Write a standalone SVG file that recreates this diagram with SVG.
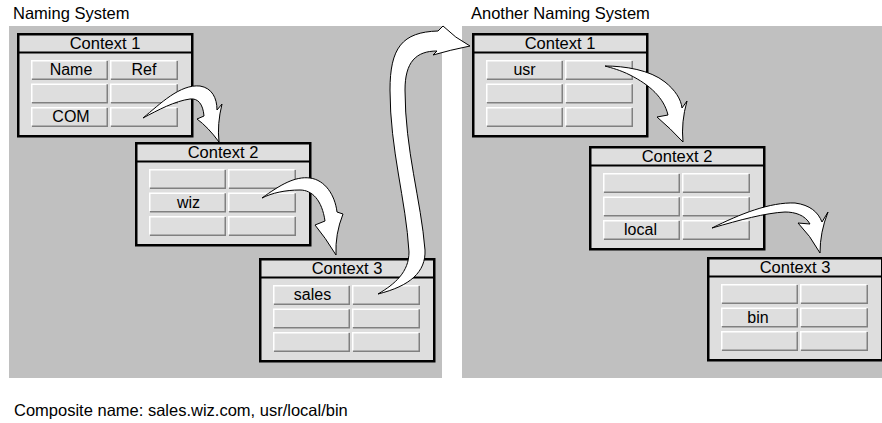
<svg xmlns="http://www.w3.org/2000/svg" xmlns:xlink="http://www.w3.org/1999/xlink" width="882" height="423" viewBox="0 0 882 423">
<style>
text{font-family:"Liberation Sans",Arial,Helvetica,sans-serif;font-size:16.5px;fill:#000}
.cell{font-size:16px}
.c{text-anchor:middle}
.panel{fill:#c0c0c0}
.frame{fill:#dedede;stroke:#000;stroke-width:2.5}
.hdr{stroke:#000;stroke-width:2}
.cf{fill:#dedede}
.hi{fill:none;stroke:#fff;stroke-width:1.5}
.lo{fill:none;stroke:#808080;stroke-width:1.5}
.arrow{fill:#fff;stroke:#000;stroke-width:1;stroke-linejoin:miter}
</style>
<defs>
<g id="cA"><rect width="77" height="20" class="cf"/><path d="M0.75,20 V0.75 H77" class="hi"/><path d="M76.25,0.75 V19.25 H0.75" class="lo"/></g>
<g id="cB"><rect width="68" height="20" class="cf"/><path d="M0.75,20 V0.75 H68" class="hi"/><path d="M67.25,0.75 V19.25 H0.75" class="lo"/></g>
<g id="box">
<rect x="1.25" y="1.25" width="174" height="102" class="frame"/>
<line x1="1" y1="19.5" x2="176" y2="19.5" class="hdr"/>
<use xlink:href="#cA" x="14" y="27"/><use xlink:href="#cB" x="93" y="27"/>
<use xlink:href="#cA" x="14" y="50.5"/><use xlink:href="#cB" x="93" y="50.5"/>
<use xlink:href="#cA" x="14" y="74"/><use xlink:href="#cB" x="93" y="74"/>
</g>
</defs>
<rect id="panel-left" x="9" y="26" width="433" height="352" class="panel"/>
<rect id="panel-right" x="462" y="26" width="420" height="352" class="panel"/>
<text x="13" y="19">Naming System</text>
<text x="471" y="19">Another Naming System</text>
<text x="14" y="416">Composite name: sales.wiz.com, usr/local/bin</text>

<g id="ns1-context1" transform="translate(17,33)">
<use xlink:href="#box"/>
<text x="88" y="16" class="c">Context 1</text>
<text x="54" y="42" class="c cell">Name</text>
<text x="127" y="42" class="c cell">Ref</text>
<text x="54" y="89" class="c cell">COM</text>
</g>
<g id="ns1-context2" transform="translate(135,142)">
<use xlink:href="#box"/>
<text x="88" y="16" class="c">Context 2</text>
<text x="53.5" y="65.5" class="c cell">wiz</text>
</g>
<g id="ns1-context3" transform="translate(259,258)">
<use xlink:href="#box"/>
<text x="88" y="16" class="c">Context 3</text>
<text x="53.5" y="42" class="c cell">sales</text>
</g>
<g id="ns2-context1" transform="translate(472,33)">
<use xlink:href="#box"/>
<text x="88" y="16" class="c">Context 1</text>
<text x="52.5" y="42" class="c cell">usr</text>
</g>
<g id="ns2-context2" transform="translate(589,146)">
<use xlink:href="#box"/>
<text x="88" y="16" class="c">Context 2</text>
<text x="51.5" y="89" class="c cell">local</text>
</g>
<g id="ns2-context3" transform="translate(707,257)">
<use xlink:href="#box"/>
<text x="88" y="16" class="c">Context 3</text>
<text x="51" y="65.5" class="c cell">bin</text>
</g>

<g id="connectors">
<path class="arrow" d="M143,118 C160,104 180,84 200,86 C212,88 217,98 217,110 L222,104 Q217,124 219,142 Q208,127 197,119 L204,116 C203,104 198,98 190,99 C175,101 158,110 143,118 Z"/>
<path class="arrow" d="M262,198 C280,185 295,176 310,178 C325,180 335,195 337,212 L343,214 Q335,234 336,255 Q325,237 315,225 L325,221 C322,200 312,190 300,190 C285,190 272,193 262,198 Z"/>
<path class="arrow" d="M378,294 C395,284 409,272 409,252 C406,200 390,150 390,90 C390,48 402,32 438,31 L443,26 Q455,38 470,46 Q450,50 433,55 L437,51 C416,51 405,62 405,90 C405,150 421,200 425,250 C426,272 410,286 378,294 Z"/>
<path class="arrow" d="M605,66 C625,66 650,70 665,82 C675,90 681,99 682,108 L687,101 Q681,122 683,142 Q670,128 657,117 L668,115 C664,98 650,85 630,75 C620,70 612,68 605,66 Z"/>
<path class="arrow" d="M712,228 C740,214 770,202 795,203 C810,205 818,212 822,222 L828,212 Q820,232 820,253 Q810,235 798,223 L810,224 C805,215 795,212 785,212 C765,213 740,220 712,228 Z"/>
</g>
</svg>
